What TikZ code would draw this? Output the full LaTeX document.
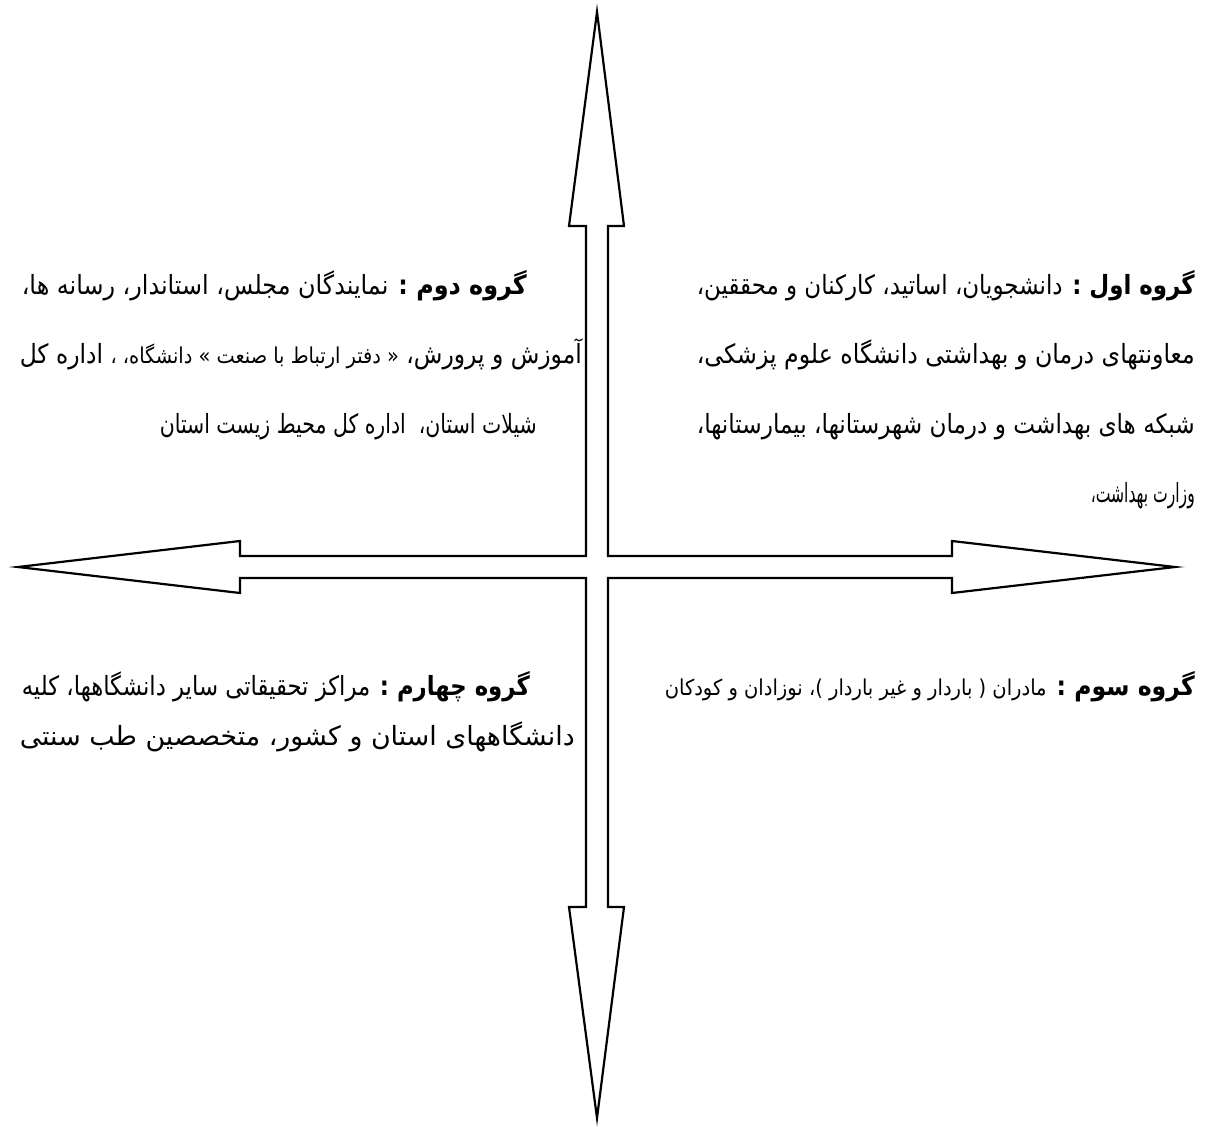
\documentclass[tikz,border=0pt]{standalone}
\usepackage{fontspec}
\usepackage{graphicx}
\TeXXeTstate=1
\newfontfamily\arabicfont[Script=Arabic]{DejaVu Sans}
\newcommand\faline[2]{\resizebox{#1}{1.15\height}{\arabicfont #2}}
\newcommand\sm{\fontsize{19}{22}\selectfont}
\begin{document}
\begin{tikzpicture}[x=1pt,y=-1pt,
  txt/.style={inner sep=0pt, anchor=base east, font=\fontsize{23}{27}\selectfont},
  crossarrow/.style={draw=black, line width=2.2pt, fill=white, line join=miter}]
\useasboundingbox[fill=white] (0,0) rectangle (1211,1127);
% four-way arrow
\draw[crossarrow]
  (597,12) -- (624,226) -- (608,226) -- (608,556) -- (952,556) -- (952,541)
  -- (1175,567) -- (952,593) -- (952,578) -- (608,578) -- (608,907)
  -- (624,907) -- (597,1118) -- (569,907) -- (586,907) -- (586,578)
  -- (240,578) -- (240,593) -- (18,567) -- (240,541) -- (240,556)
  -- (586,556) -- (586,226) -- (569,226) -- cycle;
% group 1 (upper right)
\node[txt] (r1) at (1195,294) {\faline{498pt}{\beginR\textbf{گروه اول :} دانشجویان، اساتید، کارکنان و محققین،\endR}};
\node[txt] (r2) at (1195,363) {\faline{498pt}{\beginR معاونتهای درمان و بهداشتی دانشگاه علوم پزشکی،\endR}};
\node[txt] (r3) at (1195,433) {\faline{498pt}{\beginR شبکه های بهداشت و درمان شهرستانها، بیمارستانها،\endR}};
\node[txt] (r4) at (1195,502) {\faline{104pt}{\beginR وزارت بهداشت،\endR}};
% group 2 (upper left)
\node[txt] (l1) at (527,294) {\faline{505pt}{\beginR\textbf{گروه دوم :} نمایندگان مجلس، استاندار، رسانه ها،\endR}};
\node[txt] (l2) at (582,363) {\faline{562pt}{\beginR آموزش و پرورش، {\sm « دفتر ارتباط با صنعت » دانشگاه، ،} اداره کل\endR}};
\node[txt] (l3) at (537,433) {\faline{377pt}{\beginR شیلات استان،\ \ اداره کل محیط زیست استان\endR}};
% group 3 (lower right)
\node[txt] (b1) at (1195,695) {\faline{530pt}{\beginR\textbf{گروه سوم :} {\sm مادران ( باردار و غیر باردار )\kern0pt، نوزادان و کودکان}\endR}};
% group 4 (lower left)
\node[txt] (c1) at (530,695) {\faline{508pt}{\beginR\textbf{گروه چهارم :} مراکز تحقیقاتی سایر دانشگاهها، کلیه\endR}};
\node[txt] (c2) at (575,745) {\faline{555pt}{\beginR دانشگاههای استان و کشور، متخصصین طب سنتی\endR}};
\end{tikzpicture}
\end{document}
